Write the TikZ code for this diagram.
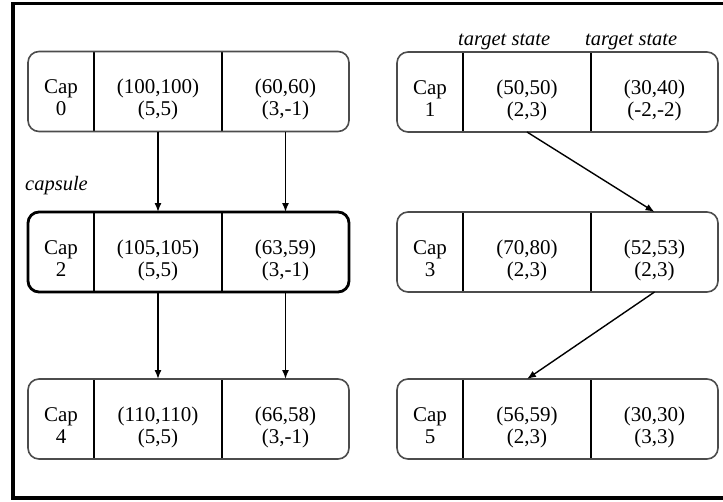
\documentclass[tikz,border=0pt]{standalone}
\usepackage{fontspec}
\setmainfont{Liberation Serif}
\usetikzlibrary{positioning,arrows.meta}
\newcommand{\celltext}[1]{\raisebox{-14pt}[0pt][0pt]{\begin{tabular}{@{}c@{}}#1\end{tabular}}}

\begin{document}
\begin{tikzpicture}[x=1pt,y=-1pt,
    cell/.style={minimum height=80pt, inner sep=0pt, outer sep=0pt, font=\fontsize{21}{22}\selectfont},
    capbox/.style={draw=black!70, line width=1.6pt, rounded corners=11pt},
    divider/.style={draw=black, line width=1.4pt},
    arr/.style={-{Latex[length=9pt,width=7pt]}, line width=1.4pt},
    note/.style={font=\fontsize{20.5}{22}\selectfont\itshape, inner sep=0pt}]
    \useasboundingbox (0,0) rectangle (723,501);
    % outer frame, cut off on the right
    \begin{scope}
        \clip (0,0) rectangle (723,501);
        \draw[line width=3.5pt] (13,3.5) rectangle (740,498);
    \end{scope}
    % capsules: number / left x / middle y / first state / second state
    \foreach \n/\x/\y/\s/\t in {0/28/91.5/{(100,100)\\(5,5)}/{(60,60)\\(3,-1)},
                                1/397/92/{(50,50)\\(2,3)}/{(30,40)\\(-2,-2)},
                                2/28/252/{(105,105)\\(5,5)}/{(63,59)\\(3,-1)},
                                3/397/252/{(70,80)\\(2,3)}/{(52,53)\\(2,3)},
                                4/28/419/{(110,110)\\(5,5)}/{(66,58)\\(3,-1)},
                                5/397/419/{(56,59)\\(2,3)}/{(30,30)\\(3,3)}}
    {
        \node[cell, minimum width=66pt, anchor=west] (cap\n) at (\x,\y) {\celltext{Cap\\\n}};
        \node[cell, minimum width=128pt, right=0pt of cap\n] (cap\n-1) {\celltext{\s}};
        \node[cell, minimum width=127pt, right=0pt of cap\n-1] (cap\n-2) {\celltext{\t}};
        \draw[divider] (cap\n-1.north west) -- (cap\n-1.south west)
                       (cap\n-2.north west) -- (cap\n-2.south west);
        \draw[capbox] (cap\n.north west) rectangle (cap\n-2.south east);
    }
    % the capsule being looked at
    \draw[capbox, draw=black, line width=2.8pt] (cap2.north west) rectangle (cap2-2.south east);
    % labels
    \node[note, anchor=base west] (capsulelabel) at (25,190) {capsule};
    \node[note, anchor=base west] (target1) at ([xshift=-5pt,yshift=7pt]cap1-1.north west) {target state};
    \node[note, anchor=base west] (target2) at ([xshift=-6pt,yshift=7pt]cap1-2.north west) {target state};
    % arrows
    \draw[arr] (cap0-1.south) -- (cap2-1.north);
    \draw[arr] (cap0-2.south) -- (cap2-2.north);
    \draw[arr] (cap2-1.south) -- (cap4-1.north);
    \draw[arr] (cap2-2.south) -- (cap4-2.north);
    \draw[arr] (cap1-1.south) -- (cap3-2.north);
    \draw[arr] (cap3-2.south) -- (cap5-1.north);
\end{tikzpicture}
\end{document}
